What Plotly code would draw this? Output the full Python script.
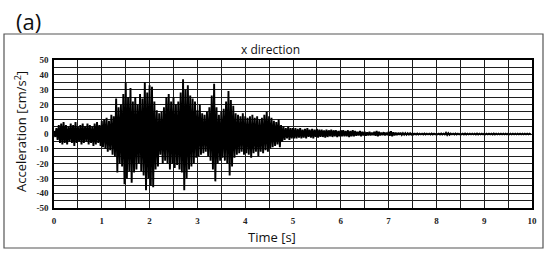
import plotly.graph_objects as go

dt = 0.05
upper = [
    2, 4, 6, 7, 8, 6, 5, 7, 6, 8, 5, 6, 7, 5, 7, 6, 5, 7, 8, 6, 9,
    10, 11, 9, 13, 12, 24, 18, 20, 27, 35, 25, 31, 22, 25, 20, 27, 24, 35, 28, 33,
    32, 22, 16, 14, 15, 18, 25, 27, 22, 25, 20, 22, 28, 37, 30, 33, 26, 24, 22, 16,
    20, 14, 13, 15, 18, 26, 34, 18, 13, 15, 17, 22, 29, 23, 19, 14, 13, 12, 14, 12,
    11, 12, 13, 11, 12, 10, 11, 13, 15, 12, 11, 9, 8, 10, 6, 5, 4, 5, 4, 4,
    4, 3.5, 4, 3, 3.5, 4, 3, 3.5, 3, 3.5, 3, 3, 2.5, 3, 2.5, 3, 2.5, 2.5, 2, 2.5,
    2.5, 2, 2.5, 2, 2.5, 2, 1.5, 2, 1.5, 1.5, 1.2, 1.5, 1, 1.5, 2, 1.5, 1, 1.2, 1, 1.5,
    1.8, 1.2, 1, 0.8, 0.8, 0.6, 0.6, 0.5, 0.5,
    0.4, 0.3, 0.4, 0.3, 0.3, 0.4, 0.3, 0.3, 0.4, 0.3, 0.3, 0.3, 0.4, 0.3, 0.8, 0.6,
    0.3, 0.3, 0.4, 0.3, 0.3, 0.3, 0.4, 0.3, 0.3, 0.3, 0.3, 0.4, 0.3, 0.3, 0.3, 0.3,
    0.3, 0.3, 0.4, 0.3, 0.3, 0.3, 0.3, 0.3, 0.3, 0.3, 0.3, 0.3, 0.3, 0.3, 0.3, 0.3,
    0.3, 0.3,
]
lower = [
    -2, -4, -6, -7, -6, -7, -5, -6, -8, -6, -5, -7, -6, -5, -7, -6, -8, -7, -6, -8, -9,
    -10, -12, -11, -14, -15, -26, -20, -22, -34, -30, -25, -33, -26, -24, -20, -25, -28, -38, -30, -35,
    -36, -24, -22, -14, -20, -18, -20, -24, -20, -23, -21, -24, -26, -38, -30, -24, -22, -20, -16, -15,
    -14, -13, -12, -15, -18, -24, -32, -20, -18, -16, -18, -20, -28, -22, -16, -14, -13, -12, -14, -13,
    -14, -16, -13, -12, -15, -12, -13, -11, -12, -10, -9, -8, -7, -9, -5, -4, -3, -4, -3, -3,
    -3, -2.5, -3, -2.5, -3, -2, -2.5, -3, -2, -2.5, -2, -2, -2.5, -2, -1.5, -2, -1.5, -2, -1.5, -1.5,
    -1.5, -1.5, -2, -1.5, -1.5, -1.2, -1, -1.5, -1, -1.2, -1, -1, -0.8, -1.2, -1.5, -1, -0.8, -1, -0.8, -1.2,
    -1.5, -1, -0.8, -0.6, -0.6, -0.5, -0.5, -0.4, -0.4,
    -0.3, -0.3, -0.3, -0.3, -0.3, -0.3, -0.3, -0.3, -0.3, -0.3, -0.3, -0.3, -0.3, -0.3, -0.6, -0.5,
    -0.3, -0.3, -0.3, -0.3, -0.3, -0.3, -0.3, -0.3, -0.3, -0.3, -0.3, -0.3, -0.3, -0.3, -0.3, -0.3,
    -0.3, -0.3, -0.3, -0.3, -0.3, -0.3, -0.3, -0.3, -0.3, -0.3, -0.3, -0.3, -0.3, -0.3, -0.3, -0.3,
    -0.3, -0.3,
]
x_ticks = [0, 1, 2, 3, 4, 5, 6, 7, 8, 9, 10]
y_ticks = [-50, -40, -30, -20, -10, 0, 10, 20, 30, 40, 50]

# build the oscillating trace from the envelope samples
n = min(len(upper), len(lower))
xs, ys = [], []
for i in range(n):
    t = i * dt
    xs += [t, t + dt / 2]
    ys += [upper[i], lower[i]]

fig = go.Figure()
fig.add_trace(go.Scatter(x=xs, y=ys, mode="lines",
                         line=dict(color="#000000", width=1.9),
                         showlegend=False, hoverinfo="skip"))

tickfont = dict(family="Liberation Serif", size=9, color="#222222", weight="bold")
grid = "#1e1e1e"
fig.update_layout(
    width=550, height=253,
    margin=dict(l=54, r=18, t=60, b=45),
    paper_bgcolor="white", plot_bgcolor="white",
    xaxis=dict(range=[0, 10], tickvals=x_ticks, ticktext=[str(v) for v in x_ticks],
               tickfont=tickfont, showgrid=True, gridcolor=grid, gridwidth=1.3,
               minor=dict(dtick=0.5, showgrid=True, gridcolor=grid, gridwidth=1.3, tick0=0),
               showline=True, linecolor="#000", linewidth=1.5, mirror=True,
               ticks="outside", ticklen=3, tickcolor="rgba(0,0,0,0)", zeroline=False),
    yaxis=dict(range=[-50, 50], tickvals=y_ticks, ticktext=[str(v) for v in y_ticks],
               tickfont=tickfont, showgrid=True, gridcolor=grid, gridwidth=1.3,
               minor=dict(dtick=5, showgrid=True, gridcolor=grid, gridwidth=1.3, tick0=0),
               showline=True, linecolor="#000", linewidth=1.5, mirror=True,
               ticks="outside", ticklen=2, tickcolor="rgba(0,0,0,0)", zeroline=False),
    shapes=[dict(type="rect", xref="paper", yref="paper",
                 x0=-50 / 478, x1=(543 - 54) / 478,
                 y0=-(248 - 208) / 148, y1=(208 - 34) / 148,
                 line=dict(color="#555555", width=1.2), fillcolor="rgba(0,0,0,0)",
                 layer="below")],
    annotations=[
        dict(text="x direction", xref="paper", yref="paper",
             x=(270 - 54) / 478, y=(208 - 49) / 148, showarrow=False,
             xanchor="center", yanchor="middle",
             font=dict(family="Open Sans", size=12, color="#111")),
        dict(text="Time [s]", xref="paper", yref="paper",
             x=(272 - 54) / 478, y=-(237 - 208) / 148, showarrow=False,
             xanchor="center", yanchor="middle",
             font=dict(family="Open Sans", size=13, color="#111")),
        dict(text="Acceleration [cm/s<sup>2</sup>]", xref="paper", yref="paper",
             x=-(54 - 20) / 478, y=(208 - 132) / 148, showarrow=False, textangle=-90,
             xanchor="center", yanchor="middle",
             font=dict(family="Open Sans", size=13, color="#111")),
        dict(text="(a)", xref="paper", yref="paper",
             x=-(54 - 14) / 478, y=(208 - 21) / 148, showarrow=False,
             xanchor="left", yanchor="middle",
             font=dict(family="Open Sans", size=22, color="#111")),
    ],
)

fig.write_html("out.html", config={"displayModeBar": False},
               post_script="document.body.style.margin='0';")
